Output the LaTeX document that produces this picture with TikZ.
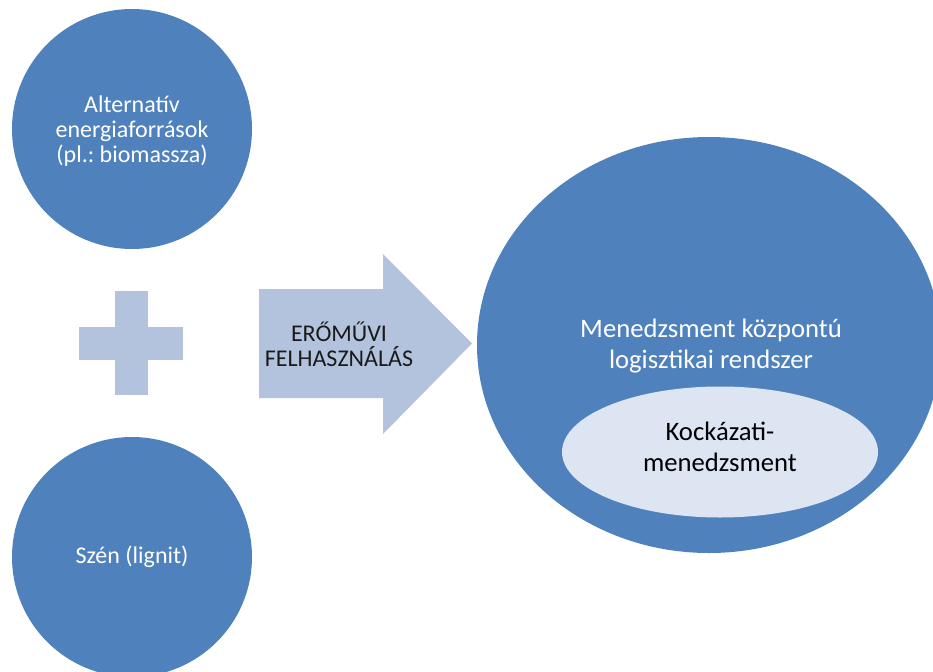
\documentclass[tikz,border=0pt]{standalone}
\usepackage{fontspec}
\setmainfont{Carlito}
\frenchspacing
\usetikzlibrary{shapes.geometric}
\definecolor{accentblue}{HTML}{4F81BD}
\definecolor{paleblue}{HTML}{B3C3DE}
\definecolor{iceblue}{HTML}{DCE5F1}
\definecolor{inktext}{HTML}{1A1A1A}
\begin{document}
\begin{tikzpicture}[x=0.75pt,y=-0.75pt,
  disc/.style={ellipse, fill=accentblue, draw=none, inner sep=0pt},
  innerdisc/.style={ellipse, fill=iceblue, draw=none, inner sep=0pt},
  smalltext/.style={font=\fontsize{18}{19}\selectfont, align=center, inner sep=0pt},
  bigtext/.style={font=\fontsize{20}{23}\selectfont, align=center, inner sep=0pt},
  shapefill/.style={fill=paleblue, draw=none}]
\useasboundingbox (0,0) rectangle (933,672);
\clip (0,0) rectangle (933,672);

% source discs
\node[disc, minimum width=180pt, minimum height=180pt] (alt) at (132,129) {};
\node[disc, minimum width=180pt, minimum height=180pt] (coal) at (132,557) {};

% plus sign between the sources
\fill[shapefill] (114.5,291) rectangle (147.5,395);
\fill[shapefill] (79,326.5) rectangle (183,359.5);

% block arrow
\fill[shapefill] (259,289) -- (383,289) -- (383,254) -- (472,343.5)
  -- (383,434) -- (383,398) -- (259,398) -- cycle;

% logistics system with its inner risk-management field
\node[disc, minimum width=348pt, minimum height=312pt] (system) at (709,345) {};
\node[innerdisc, minimum width=237pt, minimum height=98.25pt] (risk) at (720,452) {};

% labels
\node[smalltext, text=white] (altlabel) at (132,131) {Alternatív\\energiaforrások\\(pl.:~biomassza)};
\node[smalltext, text=white] (coallabel) at (coal) {Szén (lignit)};
\node[smalltext, text=inktext] (arrowlabel) at (339,344) {ERŐMŰVI\\FELHASZNÁLÁS};
\node[bigtext, text=white] (systemlabel) at (711,346) {Menedzsment központú\\logisztikai rendszer};
\node[bigtext, text=black] (risklabel) at (720,447) {Kockázati-\\menedzsment};
\end{tikzpicture}
\end{document}
